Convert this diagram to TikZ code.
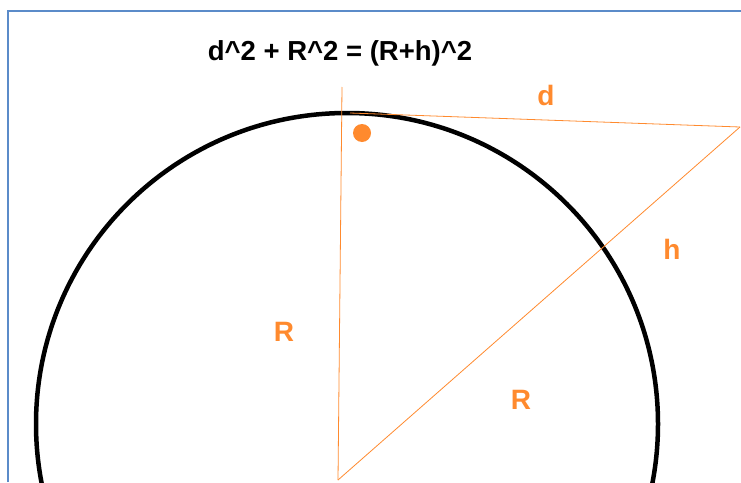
\documentclass[tikz,border=0pt]{standalone}
\usepackage{fontspec}
\setmainfont{Liberation Sans}
\usepackage{tikz}
\usetikzlibrary{calc}
\definecolor{frameblue}{HTML}{5B8BC9}
\definecolor{signorange}{HTML}{FF8A2E}

\begin{document}
\begin{tikzpicture}[x=1pt,y=-1pt,
  earth/.style={draw=black,line width=4.5pt},
  ray/.style={draw=signorange,line width=0.8pt},
  lbl/.style={text=signorange,font=\fontsize{28}{32}\selectfont\bfseries,inner sep=0pt},
  eqn/.style={text=black,font=\fontsize{27.5}{32}\selectfont\bfseries,inner sep=0pt}]
\useasboundingbox (0,0) rectangle (741,482);
\clip (0,0) rectangle (741,482);
% frame
\draw[frameblue,line width=2pt] (7.5,482) |- (741,10.5);
% the earth
\draw[earth] (347,424) circle (311pt);
% points
\coordinate (centre) at (338,480);
\coordinate (up) at (342,87);
\coordinate (touch) at (350,113);
\coordinate (eye) at (740,127);
\node[circle,fill=signorange,minimum size=18pt,inner sep=0pt] (spot) at (362,133) {};
% lines
\draw[ray] (centre) -- (up);
\draw[ray] (centre) -- (eye);
\draw[ray] (touch) -- (eye);
% labels
\node[eqn] (formula) at (340,53) {d\^{}2 + R\^{}2 = (R+h)\^{}2};
\node[lbl] (dlbl) at (546,95) {d};
\node[lbl] (hlbl) at (672,249) {h};
\node[lbl] (rone) at (284,332) {R};
\node[lbl] (rtwo) at (521,400) {R};
\end{tikzpicture}
\end{document}
